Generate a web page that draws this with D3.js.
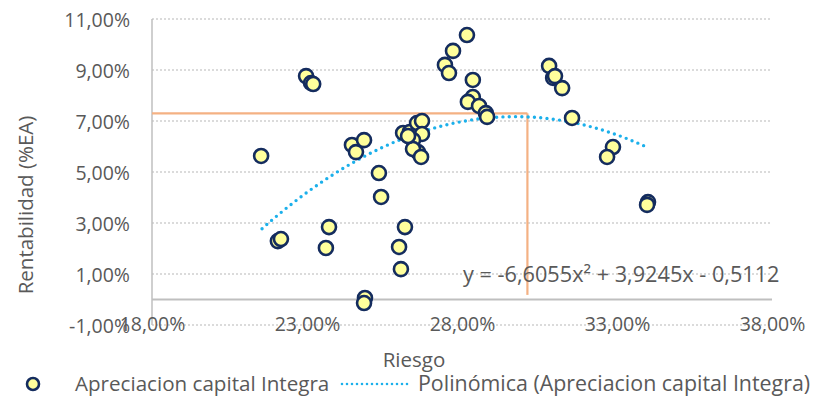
<!DOCTYPE html>
<html>
<head>
<meta charset="utf-8">
<script src="https://cdn.jsdelivr.net/npm/d3@7"></script>
<style>
  html, body { margin: 0; padding: 0; background: #fff; }
  svg { display: block; }
  text { font-family: "Open Sans", "Noto Sans", sans-serif; fill: #595959; }
</style>
</head>
<body>
<svg id="chart" width="814" height="402"></svg>
<script>
// Risk (x) and return (y) of each observation, as fractions
const riesgo = [
  0.2152, 0.2206, 0.2216, 0.2297, 0.2313, 0.2320, 0.2361, 0.2371,
  0.2445, 0.2458, 0.2484, 0.2487, 0.2484, 0.2532, 0.2539,
  0.2597, 0.2603, 0.2616, 0.2610, 0.2632, 0.2655, 0.2671, 0.2671,
  0.2642, 0.2658, 0.2642, 0.2668, 0.2626,
  0.2816, 0.2771, 0.2745, 0.2758, 0.2835, 0.2835, 0.2819, 0.2855, 0.2877, 0.2881,
  0.3081, 0.3094, 0.3100, 0.3123, 0.3155, 0.3287, 0.3268, 0.3400, 0.3397
];
const rentabilidad = [
  0.0563, 0.0229, 0.0237, 0.0876, 0.0849, 0.0845, 0.0202, 0.0284,
  0.0606, 0.0578, 0.0625, 0.0006, -0.0014, 0.0496, 0.0402,
  0.0206, 0.0119, 0.0284, 0.0653, 0.0657, 0.0692, 0.0700, 0.0649,
  0.0625, 0.0578, 0.0590, 0.0559, 0.0641,
  0.1037, 0.0975, 0.0920, 0.0888, 0.0861, 0.0794, 0.0775, 0.0759, 0.0731, 0.0716,
  0.0916, 0.0869, 0.0876, 0.0829, 0.0712, 0.0598, 0.0559, 0.0382, 0.0371
];

// Polynomial trend coefficients (y = a x^2 + b x + c) and its drawn span
const trendCoef = [-6.6055, 3.9245, -0.5112];
const trendSpan = [0.2155, 0.3400];
const trendLabel = "y = -6,6055x² + 3,9245x - 0,5112";

// Reference guide: chosen risk and return
const guideRiesgo = 0.3011;
const guideRentabilidad = 0.0730;

const xTicks = [0.18, 0.23, 0.28, 0.33, 0.38];
const yTicks = [-0.01, 0.01, 0.03, 0.05, 0.07, 0.09, 0.11];

const seriesName = "Apreciacion capital Integra";
const trendName = "Polinómica (Apreciacion capital Integra)";
const xTitle = "Riesgo";
const yTitle = "Rentabilidad (%EA)";

const svg = d3.select("#chart");

const x = d3.scaleLinear().domain([0.18, 0.38]).range([152, 772]);
const y = d3.scaleLinear().domain([-0.01, 0.11]).range([325, 19]);

// Percent with comma decimals and a plain hyphen for negatives
const pct = v => d3.format(".2f")(v * 100).replace(".", ",").replace("\u2212", "-") + "%";

// Horizontal dotted gridlines
svg.append("g")
  .selectAll("line")
  .data(yTicks)
  .join("line")
  .attr("x1", x(0.18)).attr("x2", x(0.38))
  .attr("y1", d => y(d)).attr("y2", d => y(d))
  .attr("stroke", "#d0d0d0")
  .attr("stroke-width", 1.3)
  .attr("stroke-dasharray", "2,2");

// Vertical axis line and the horizontal axis at zero
svg.append("line")
  .attr("x1", x(0.18)).attr("x2", x(0.18))
  .attr("y1", y(0.11)).attr("y2", y(-0.01))
  .attr("stroke", "#bfbfbf").attr("stroke-width", 1.5);
svg.append("line")
  .attr("x1", x(0.18)).attr("x2", x(0.38))
  .attr("y1", y(0)).attr("y2", y(0))
  .attr("stroke", "#bfbfbf").attr("stroke-width", 1.8);

// Y tick labels
const yAxis = d3.axisLeft(y).tickValues(yTicks).tickFormat(pct).tickSize(0).tickPadding(0);
const gy = svg.append("g").attr("transform", "translate(130,0)").call(yAxis);
gy.select(".domain").remove();
gy.selectAll("text")
  .attr("font-size", 19.5)
  .attr("font-family", null)
  .attr("fill", "#595959")
  .attr("dy", "0.36em");

// X tick labels along the bottom edge
const xAxis = d3.axisBottom(x).tickValues(xTicks).tickFormat(pct).tickSize(0).tickPadding(0);
const gx = svg.append("g").attr("transform", `translate(0,${y(-0.01)})`).call(xAxis);
gx.select(".domain").remove();
gx.selectAll("text")
  .attr("font-size", 19.5)
  .attr("font-family", null)
  .attr("fill", "#595959")
  .attr("dy", "0.3em");

// Axis titles
svg.append("text")
  .attr("x", 414).attr("y", 367)
  .attr("text-anchor", "middle")
  .attr("font-size", 20.5)
  .text(xTitle);
svg.append("text")
  .attr("transform", "translate(33,205) rotate(-90)")
  .attr("text-anchor", "middle")
  .attr("font-size", 20.5)
  .text(yTitle);

// Orange guide lines
const orange = "#f4b183";
svg.append("line")
  .attr("x1", x(0.18)).attr("x2", x(guideRiesgo))
  .attr("y1", y(guideRentabilidad)).attr("y2", y(guideRentabilidad))
  .attr("stroke", orange).attr("stroke-width", 2.2);
svg.append("line")
  .attr("x1", x(guideRiesgo)).attr("x2", x(guideRiesgo))
  .attr("y1", y(guideRentabilidad)).attr("y2", y(0.0018))
  .attr("stroke", orange).attr("stroke-width", 2.2);

// Polynomial trend line
const poly = v => trendCoef[0] * v * v + trendCoef[1] * v + trendCoef[2];
const trendX = d3.range(trendSpan[0], trendSpan[1] + 1e-9, 0.001);
const trendColor = "#1cb0eb";
svg.append("path")
  .datum(trendX)
  .attr("fill", "none")
  .attr("stroke", trendColor)
  .attr("stroke-width", 3.4)
  .attr("stroke-linecap", "round")
  .attr("stroke-dasharray", "0,6.3")
  .attr("d", d3.line().x(d => x(d)).y(d => y(poly(d))));

// Scatter points
const dotFill = "#ffff9c";
const dotStroke = "#142c5e";
svg.append("g")
  .selectAll("circle")
  .data(riesgo.map((r, i) => [r, rentabilidad[i]]))
  .join("circle")
  .attr("cx", d => x(d[0]))
  .attr("cy", d => y(d[1]))
  .attr("r", 7)
  .attr("fill", dotFill)
  .attr("stroke", dotStroke)
  .attr("stroke-width", 2.6);

// Trend equation
svg.append("text")
  .attr("x", 463).attr("y", 282)
  .attr("font-size", 21.7)
  .text(trendLabel);

// Legend
const ly = 384;
svg.append("circle")
  .attr("cx", 33).attr("cy", ly).attr("r", 6)
  .attr("fill", dotFill).attr("stroke", dotStroke).attr("stroke-width", 2.6);
svg.append("text")
  .attr("x", 75).attr("y", ly).attr("dy", "0.35em")
  .attr("font-size", 20.6)
  .text(seriesName);
svg.append("line")
  .attr("x1", 342).attr("x2", 408)
  .attr("y1", ly).attr("y2", ly)
  .attr("stroke", trendColor).attr("stroke-width", 2.6)
  .attr("stroke-linecap", "round")
  .attr("stroke-dasharray", "0,5");
svg.append("text")
  .attr("x", 418).attr("y", ly).attr("dy", "0.35em")
  .attr("font-size", 21.4)
  .text(trendName);
</script>
</body>
</html>
